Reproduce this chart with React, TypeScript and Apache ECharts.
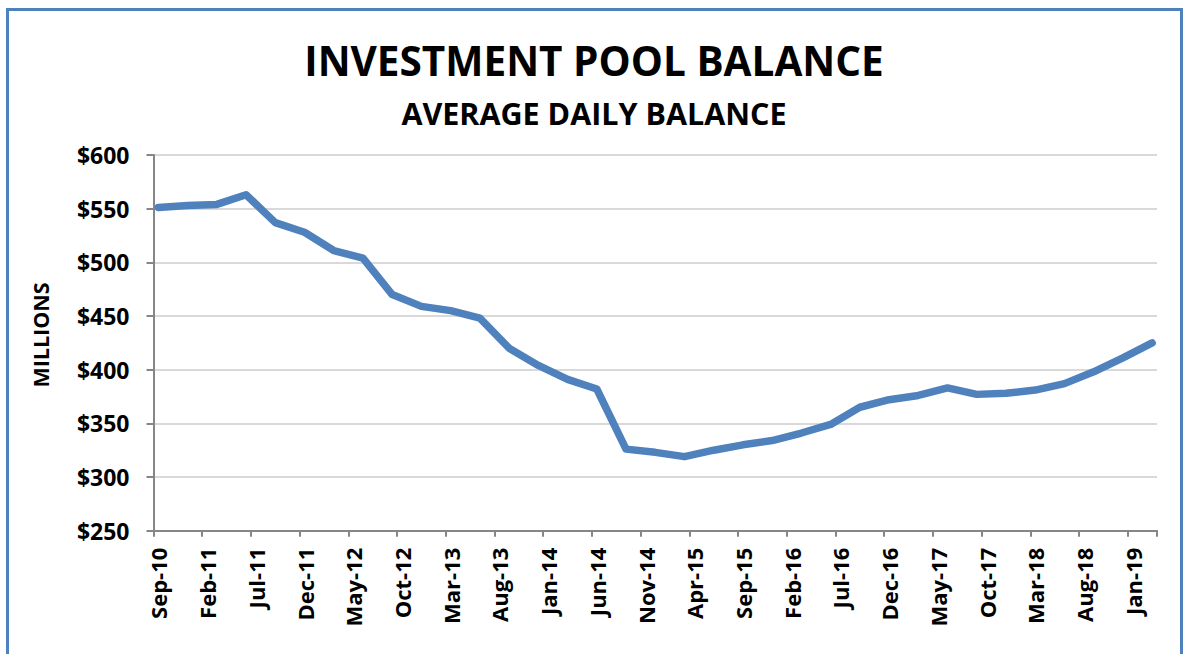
import React, { useEffect, useRef } from "react";
import * as echarts from "echarts";

// Quarterly observation months and average daily balances (millions of $)
const quarterMonths = [
  "Sep-10", "Dec-10", "Mar-11", "Jun-11", "Sep-11", "Dec-11", "Mar-12", "Jun-12",
  "Sep-12", "Dec-12", "Mar-13", "Jun-13", "Sep-13", "Dec-13", "Mar-14", "Jun-14",
  "Sep-14", "Dec-14", "Mar-15", "Jun-15", "Sep-15", "Dec-15", "Mar-16", "Jun-16",
  "Sep-16", "Dec-16", "Mar-17", "Jun-17", "Sep-17", "Dec-17", "Mar-18", "Jun-18",
  "Sep-18", "Dec-18", "Mar-19",
];
const balances = [
  551, 553, 554, 563, 537, 528, 511, 504,
  470, 459, 455, 448, 420, 404, 391, 382,
  326, 323, 319, 325, 330, 334, 341, 349,
  365, 372, 376, 383, 377, 378, 381, 387,
  398, 411, 425,
];

// Tick labels shown on the date axis (every 5 months)
const tickLabels = [
  "Sep-10", "Feb-11", "Jul-11", "Dec-11", "May-12", "Oct-12", "Mar-13", "Aug-13",
  "Jan-14", "Jun-14", "Nov-14", "Apr-15", "Sep-15", "Feb-16", "Jul-16", "Dec-16",
  "May-17", "Oct-17", "Mar-18", "Aug-18", "Jan-19",
];

const yTicks = { min: 250, max: 600, step: 50 };

// Monthly axis from Sep-10 through Mar-19
const MONTH_NAMES = ["Jan", "Feb", "Mar", "Apr", "May", "Jun", "Jul", "Aug", "Sep", "Oct", "Nov", "Dec"];
const axisStart = { year: 2010, month: 8 };
const axisEnd = { year: 2019, month: 2 };
function buildMonths(): string[] {
  const out: string[] = [];
  let y = axisStart.year;
  let m = axisStart.month;
  while (y < axisEnd.year || (y === axisEnd.year && m <= axisEnd.month)) {
    out.push(MONTH_NAMES[m] + "-" + String(y % 100).padStart(2, "0"));
    m++;
    if (m > 11) { m = 0; y++; }
  }
  return out;
}

const FONT = "'Open Sans', 'Noto Sans', sans-serif";

export default function App() {
  const ref = useRef<HTMLDivElement>(null);

  useEffect(() => {
    document.body.style.margin = "0";
    if (!ref.current) return;
    const chart = echarts.init(ref.current, undefined, { renderer: "svg" });
    const months = buildMonths();
    const tickSet = new Set(tickLabels);
    const showIdx = (idx: number) => tickSet.has(months[idx]);

    chart.setOption({
      animation: false,
      backgroundColor: "#ffffff",
      grid: { left: 153.5, right: 28, top: 155, bottom: 123.3, containLabel: false },
      graphic: [
        {
          type: "rect",
          shape: { x: 7.5, y: 9.5, width: 1174, height: 720 },
          style: { fill: "none", stroke: "#4F81BD", lineWidth: 3 },
          silent: true,
        },
        {
          type: "text",
          x: 594, y: 60,
          style: {
            text: "INVESTMENT POOL BALANCE",
            font: `bold 40.5px ${FONT}`,
            fill: "#000000",
            align: "center",
            verticalAlign: "middle",
          },
        },
        {
          type: "text",
          x: 594, y: 112.5,
          style: {
            text: "AVERAGE DAILY BALANCE",
            font: `bold 30.5px ${FONT}`,
            fill: "#000000",
            align: "center",
            verticalAlign: "middle",
          },
        },
        {
          type: "text",
          x: 40, y: 335,
          rotation: Math.PI / 2,
          style: {
            text: "MILLIONS",
            font: `bold 21.5px ${FONT}`,
            fill: "#000000",
            align: "center",
            verticalAlign: "middle",
          },
        },
      ],
      xAxis: {
        type: "category",
        data: months,
        boundaryGap: true,
        axisLine: { show: true, lineStyle: { color: "#868686", width: 2 } },
        axisTick: {
          show: true,
          alignWithLabel: false,
          interval: (idx: number) => showIdx(idx),
          length: 6,
          lineStyle: { color: "#868686", width: 2 },
        },
        axisLabel: {
          interval: (idx: number) => showIdx(idx),
          rotate: 90,
          margin: 17,
          fontFamily: FONT,
          fontWeight: "bold",
          fontSize: 22,
          color: "#000000",
        },
        splitLine: { show: false },
      },
      yAxis: {
        type: "value",
        min: yTicks.min,
        max: yTicks.max,
        interval: yTicks.step,
        axisLine: { show: true, lineStyle: { color: "#868686", width: 2 } },
        axisTick: { show: true, inside: false, length: 7, lineStyle: { color: "#868686", width: 2 } },
        axisLabel: {
          margin: 24,
          formatter: (v: number) => "$" + v,
          fontFamily: FONT,
          fontWeight: "bold",
          fontSize: 23,
          color: "#000000",
        },
        splitLine: { show: true, lineStyle: { color: "#d9d9d9", width: 2 } },
      },
      series: [
        {
          type: "line",
          data: quarterMonths.map((m, i) => [m, balances[i]]),
          showSymbol: false,
          symbol: "none",
          lineStyle: { color: "#4F81BD", width: 7.5, cap: "round", join: "round" },
          itemStyle: { color: "#4F81BD" },
          z: 5,
        },
      ],
    });
    return () => chart.dispose();
  }, []);

  return <div ref={ref} style={{ width: 1185, height: 654 }} />;
}
